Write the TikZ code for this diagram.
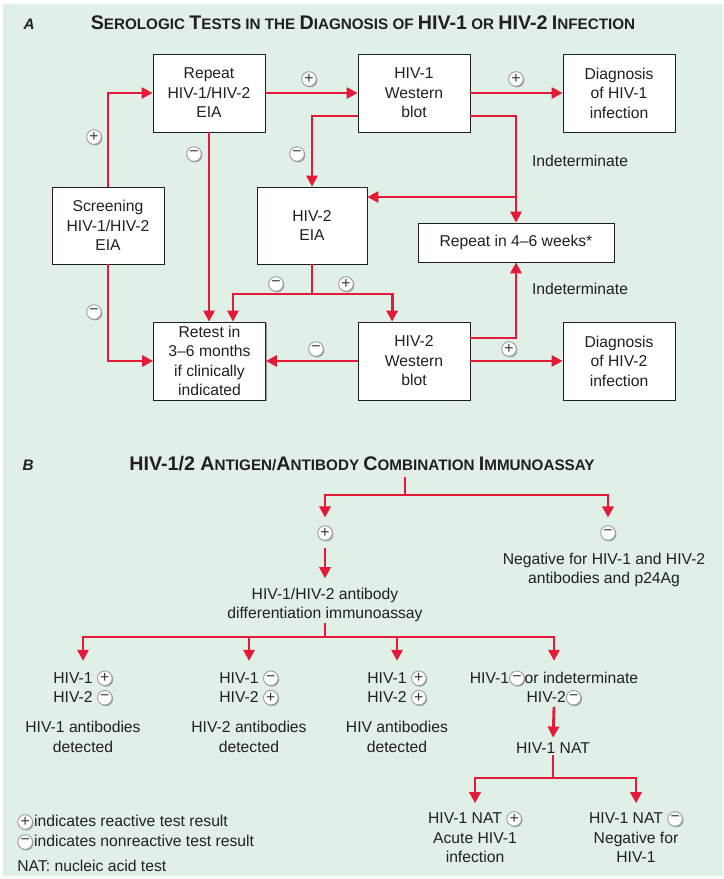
\documentclass[tikz,border=0pt]{standalone}
\usepackage{fontspec}
\setmainfont{Liberation Sans}
\usepackage{tikz}
\usetikzlibrary{arrows.meta, positioning, shadows}

\definecolor{bggreen}{RGB}{225,240,230}
\definecolor{hivred}{RGB}{228,26,56}
\definecolor{ink}{RGB}{35,31,32}

\tikzset{
  sgn/.style={circle, draw=gray!75, fill=white, line width=0.8pt,
              minimum size=12.5pt, inner sep=0pt, text=ink!90,
              font=\fontsize{13.5}{12}\selectfont,
              drop shadow={shadow xshift=0.9pt, shadow yshift=-0.9pt,
                           fill=gray!80, opacity=1}}
}
\newcommand{\sgnp}{\tikz[baseline=-0.6ex]\node[sgn]{+};}
\newcommand{\sgnm}{\tikz[baseline=-0.6ex]\node[sgn]{−};}
\newcommand{\capbig}[1]{{\fontsize{16.8}{19}\selectfont #1}}

\begin{document}
\begin{tikzpicture}[x=0.03cm, y=-0.03cm,
  font=\fontsize{13.4}{16.6}\selectfont, text=ink,
  box/.style={rectangle, draw=ink, line width=0.6pt, fill=white,
              align=center, inner sep=2pt,
              minimum width=3.36cm, minimum height=2.34cm,
              drop shadow={shadow xshift=1.2pt, shadow yshift=-1.2pt,
                           fill=black!40, opacity=1}},
  ln/.style={draw=hivred, line width=2.4pt},
  arr/.style={ln, -{Triangle[length=9.5pt,width=9.5pt]}},
  txt/.style={align=center, inner sep=1pt},
  ttl/.style={font=\bfseries\fontsize{13}{15}\selectfont, inner sep=0pt, anchor=base},
  tag/.style={font=\bfseries\itshape\fontsize{13}{14}\selectfont, inner sep=0pt, anchor=base}
]
\useasboundingbox (0,0) rectangle (723,879);
\fill[bggreen] (3,4) rectangle (723,876);

%% Panel A
\node[tag] (tagA) at (29,30) {A};
\node[ttl] (ttlA) at (363,30) {\capbig{S}EROLOGIC \capbig{T}ESTS IN THE
  \capbig{D}IAGNOSIS OF \capbig{HIV-1} OR \capbig{HIV-2} \capbig{I}NFECTION};

%% Boxes
\node[box] (rep) at (209,93) {Repeat\\HIV-1/HIV-2\\EIA};
\node[box] (wb1) at (414,93) {HIV-1\\Western\\blot};
\node[box] (dx1) at (619,93) {Diagnosis\\of HIV-1\\infection};
\node[box, minimum height=2.31cm] (scr) at (108,225.5) {Screening\\HIV-1/HIV-2\\EIA};
\node[box, minimum width=3.3cm, minimum height=2.31cm] (eia2) at (312,225.5) {HIV-2\\EIA};
\node[box, minimum width=5.88cm, minimum height=1.17cm] (rep46) at (516,242.5) {Repeat in 4–6 weeks*};
\node[box] (ret) at (209.5,361) {Retest in\\3–6 months\\if clinically\\indicated};
\node[box] (wb2) at (414,361) {HIV-2\\Western\\blot};
\node[box] (dx2) at (619,361) {Diagnosis\\of HIV-2\\infection};

%% Connectors
\coordinate (br1) at (516,197);
\coordinate (j2) at (312,294);
\draw[arr] (scr.north) |- (rep.west);
\draw[arr] (rep) -- (wb1);
\draw[arr] (wb1) -- (dx1);
\draw[arr] ([yshift=-19.6pt]wb1.west) -| (eia2.north);
\draw[arr] ([yshift=-19.6pt]wb1.east) -| (rep46.north);
\draw[arr] (br1) -- (br1 -| eia2.east);
\draw[arr] (rep.south) -- (rep.south |- ret.north);
\draw[arr] (scr.south) |- (ret.west);
\draw[ln] (eia2.south) -- (j2);
\draw[arr] (j2) -| ([xshift=20pt]ret.north);
\draw[arr] (j2) -| ([xshift=-18.7pt]wb2.north);
\draw[arr] (wb2) -- (ret);
\draw[arr] (wb2) -- (dx2);
\draw[arr] ([yshift=19.6pt]wb2.east) -| (rep46.south);

%% Result marks
\node[sgn] (sgScr)  at (94,137)  {+};
\node[sgn] (sgWb1)  at (309,79)  {+};
\node[sgn] (sgDx1)  at (516,79)  {+};
\node[sgn] (sgRep)  at (194,154) {−};
\node[sgn] (sgEia)  at (297,154) {−};
\node[sgn] (sgScrN) at (94,312)  {−};
\node[sgn] (sgEiaN) at (276,284) {−};
\node[sgn] (sgEiaP) at (346,284) {+};
\node[sgn] (sgWb2N) at (316,349) {−};
\node[sgn] (sgWb2P) at (509,349) {+};
\node[txt] (ind1) at (580,161) {Indeterminate};
\node[txt] (ind2) at (580,289) {Indeterminate};

%% Panel B
\node[tag] (tagB) at (28,470) {B};
\node[ttl] (ttlB) at (362,470) {\capbig{HIV-1/2 A}NTIGEN/\capbig{A}NTIBODY
  \capbig{C}OMBINATION \capbig{I}MMUNOASSAY};
\coordinate (tB0) at (405,477);
\coordinate (jB) at (405,495);
\draw[ln] (tB0) -- (jB);
\node[sgn] (pB) at (325,533) {+};
\node[sgn] (nB) at (608,533) {−};
\draw[arr, shorten >=6.5pt] (jB) -| (pB.north);
\draw[arr, shorten >=6.5pt] (jB) -| (nB.north);
\node[txt] (negB) at (604,570) {Negative for HIV-1 and HIV-2\\antibodies and p24Ag};
\node[txt] (diff) at (325,605) {HIV-1/HIV-2 antibody\\differentiation immunoassay};
\draw[arr, shorten <=6.5pt, shorten >=7pt] (pB.south) -- (pB.south |- diff.north);

%% Differentiation results
\coordinate (jD) at (325,637);
\node[txt] (g1a) at (83,688)  {HIV-1 \sgnp\\HIV-2 \sgnm};
\node[txt] (g2a) at (249,688) {HIV-1 \sgnm\\HIV-2 \sgnp};
\node[txt] (g3a) at (397,688) {HIV-1 \sgnp\\HIV-2 \sgnp};
\node[txt] (g4a) at (554,688) {HIV-1\sgnm or indeterminate\\HIV-2\sgnm};
\node[txt] (g1b) at (83,737)  {HIV-1 antibodies\\detected};
\node[txt] (g2b) at (249,737) {HIV-2 antibodies\\detected};
\node[txt] (g3b) at (397,737) {HIV antibodies\\detected};
\draw[ln] (diff.south) -- (jD);
\draw[arr, shorten >=7pt] (jD) -| (g1a.north);
\draw[arr, shorten >=7pt] (jD) -| (g4a.north);
\draw[arr, shorten >=7pt] (g2a.north |- jD) -- (g2a.north);
\draw[arr, shorten >=7pt] (g3a.north |- jD) -- (g3a.north);

%% NAT
\node[txt] (nat) at (553,748) {HIV-1 NAT};
\draw[arr, shorten >=3pt] (g4a.south) -- (nat.north);
\coordinate (jN) at (553,778);
\node[txt] (natP) at (475,837) {HIV-1 NAT \sgnp\\Acute HIV-1\\infection};
\node[txt] (natN) at (636,837) {HIV-1 NAT \sgnm\\Negative for\\HIV-1};
\draw[ln] (nat.south) -- (jN);
\draw[arr, shorten >=5.5pt] (jN) -| (natP.north);
\draw[arr, shorten >=5.5pt] (jN) -| (natN.north);

%% Legend
\node[txt, anchor=west] (leg1) at (16,822) {\sgnp\kern1pt indicates reactive test result};
\node[txt, anchor=west] (leg2) at (16,842) {\sgnm\kern1pt indicates nonreactive test result};
\node[txt, anchor=west] (leg3) at (16,866) {NAT: nucleic acid test};
\end{tikzpicture}
\end{document}
